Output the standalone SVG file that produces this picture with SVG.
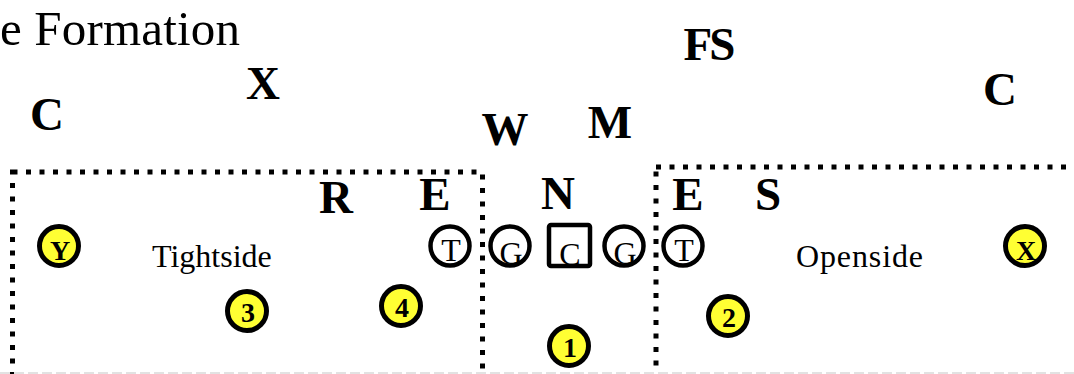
<svg xmlns="http://www.w3.org/2000/svg" width="1074" height="374" viewBox="0 0 1074 374">
<style>
  .def { font-family: "Liberation Serif", "Times New Roman", serif; font-weight: bold; font-size: 47px; fill: #000; text-anchor: middle; }
  .lbl { font-family: "Liberation Serif", "Times New Roman", serif; font-size: 32px; fill: #000; }
  .ol { fill: #fff; stroke: #000; stroke-width: 4.5; }
  .olt { font-family: "Liberation Serif", "Times New Roman", serif; font-size: 32px; fill: #000; text-anchor: middle; }
  .bk { fill: #ffff33; stroke: #000; stroke-width: 5; }
  .bkt { font-family: "Liberation Serif", "Times New Roman", serif; font-weight: bold; font-size: 28px; fill: #000; text-anchor: middle; }
  .zone { fill: none; stroke: #000; stroke-width: 5; stroke-dasharray: 5 8.5; }
</style>
<rect width="1074" height="374" fill="#fff"/>
<text x="0" y="45" font-family="'Liberation Serif', 'Times New Roman', serif" font-size="49" fill="#000" textLength="240">e Formation</text>

<g id="zones">
  <rect id="tightside-zone" class="zone" x="12.5" y="172" width="470" height="240"/>
  <rect id="openside-zone" class="zone" x="656" y="167" width="460" height="240"/>
  <line x1="0" y1="373" x2="1074" y2="373" stroke="#e2e2e2" stroke-width="2" stroke-dasharray="10 4"/>
</g>

<g id="connectors"/>

<g id="labels">
  <text id="lbl-tightside" class="lbl" x="152" y="267">Tightside</text>
  <text id="lbl-openside" class="lbl" x="796" y="267" textLength="127">Openside</text>
</g>

<g id="defense">
  <g id="def-c-left"><text class="def" x="47" y="130">C</text></g>
  <g id="def-x"><text class="def" x="263" y="99">X</text></g>
  <g id="def-fs"><text class="def" x="708" y="60" letter-spacing="-3">FS</text></g>
  <g id="def-w"><text class="def" x="505" y="145">W</text></g>
  <g id="def-m"><text class="def" x="610" y="138">M</text></g>
  <g id="def-c-right"><text class="def" x="1000" y="105">C</text></g>
  <g id="def-r"><text class="def" x="336" y="213">R</text></g>
  <g id="def-e-left"><text class="def" x="435" y="210">E</text></g>
  <g id="def-n"><text class="def" x="558" y="209">N</text></g>
  <g id="def-e-right"><text class="def" x="688" y="210">E</text></g>
  <g id="def-s"><text class="def" x="768" y="210">S</text></g>
</g>

<g id="offense">
  <g id="ol-t-left"><circle class="ol" cx="450" cy="246" r="19.5"/><text class="olt" x="451" y="261">T</text></g>
  <g id="ol-g-left"><circle class="ol" cx="510" cy="246" r="19.5"/><text class="olt" x="511" y="264">G</text></g>
  <g id="ol-c"><rect class="ol" x="549" y="225" width="41" height="41" rx="2"/><text class="olt" x="570" y="265">C</text></g>
  <g id="ol-g-right"><circle class="ol" cx="624" cy="246" r="19.5"/><text class="olt" x="625" y="264">G</text></g>
  <g id="ol-t-right"><circle class="ol" cx="683" cy="246" r="19.5"/><text class="olt" x="684" y="261">T</text></g>

  <g id="back-y"><circle class="bk" cx="59" cy="246" r="19.5"/><text class="bkt" x="60" y="260">Y</text></g>
  <g id="back-3"><circle class="bk" cx="247" cy="311" r="19.5"/><text class="bkt" x="248" y="322">3</text></g>
  <g id="back-4"><circle class="bk" cx="401" cy="306" r="19.5"/><text class="bkt" x="402" y="317">4</text></g>
  <g id="back-1"><circle class="bk" cx="569" cy="346" r="19.5"/><text class="bkt" x="570" y="357">1</text></g>
  <g id="back-2"><circle class="bk" cx="728" cy="316" r="19.5"/><text class="bkt" x="729" y="327">2</text></g>
  <g id="back-x"><circle class="bk" cx="1025" cy="246" r="19.5"/><text class="bkt" x="1026" y="260">X</text></g>
</g>
</svg>
